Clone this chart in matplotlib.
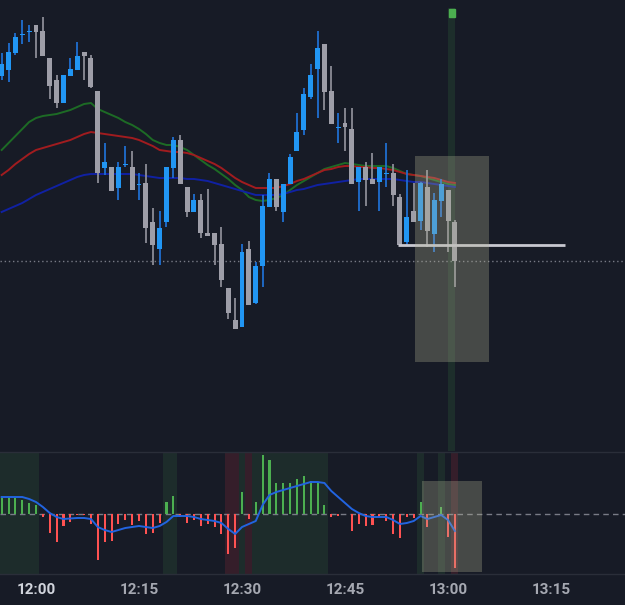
import matplotlib
matplotlib.use("Agg")
import matplotlib.pyplot as plt
from matplotlib.patches import Rectangle

# 1-minute candles, minutes counted from 12:00
minutes = list(range(-5, 62))

opens = [424, 430, 447, 465.5, 468.5, 475, 469, 442, 420, 397,
         424, 430, 448, 442, 409, 332, 333, 312, 335.5, 333,
         315.5, 317, 278, 251, 278, 332, 360, 313, 288, 300,
         267, 267, 256, 212, 180, 173, 251, 197, 234, 293,
         321, 288, 316, 349, 370, 403, 431, 456, 409, 372.5,
         377, 371, 318, 333, 321, 318, 326.5, 327, 303, 258,
         289, 279, 313, 266, 299, 310, 278]
highs = [447, 457, 467, 480, 475, 475, 483, 442, 425, 425,
         442, 458, 448, 445, 409, 357, 333, 338, 354, 349,
         327, 336, 292, 289, 333, 363, 365, 313, 306, 306,
         311, 267, 273, 212, 202, 256, 259, 238, 305, 327,
         321, 316, 346, 387, 412, 436, 469, 456, 434, 387,
         392, 392, 333, 338, 347, 333, 357, 336, 306, 330,
         317, 318, 330, 307, 321, 310, 280]
lows = [420, 418, 445, 456, 458, 442, 444, 401, 392, 397,
        424, 430, 420, 412, 317, 325, 309, 300, 333, 310,
        300, 257, 235, 235, 273, 322, 316, 283, 288, 262,
        264, 235, 213, 181, 171, 173, 195, 196, 213, 293,
        289, 278, 316, 349, 365, 401, 382, 390, 376, 357,
        349, 316, 289, 294, 316, 289, 313, 294, 255, 255,
        278, 270, 253, 248, 283, 248, 213]
closes = [436, 448, 463, 466, 469, 468, 444, 414, 397, 425,
          431, 444, 444, 413, 327, 338, 309, 333, 336, 310,
          316, 272, 255, 272, 333, 360, 316, 288, 300, 267,
          264, 255, 220, 187, 171, 248, 195, 234, 294, 321,
          293, 316, 343, 368, 406, 425, 452, 408, 376, 373,
          373, 316, 333, 320, 316, 333, 327, 305, 255, 283,
          278, 317, 269, 300, 316, 279, 239]

# moving averages
ma_green = [350, 357, 364, 371, 378, 382, 384, 385, 386, 388,
            390, 393, 396, 397, 391, 388, 385, 382, 378, 375,
            371, 366, 360, 357, 355, 355, 353, 350, 345, 340,
            335, 331, 326, 321, 315, 310, 303, 300, 299, 300,
            302, 305, 310, 315, 319, 323, 327, 331, 333, 335,
            337, 336, 335, 334, 334, 334, 334, 332, 329, 326,
            325, 324, 322, 320, 318, 316, 315]
ma_red = [325, 330, 336, 341, 346, 350, 352, 354, 356, 358,
          360, 363, 366, 368, 367, 366, 365, 364, 363, 362,
          360, 357, 354, 350, 349, 348, 348, 347, 345, 342,
          339, 336, 332, 327, 322, 318, 315, 312, 312, 312,
          312, 314, 316, 319, 321, 324, 327, 330, 331, 333,
          334, 334, 333, 333, 332, 332, 331, 330, 328, 326,
          325, 324, 323, 322, 320, 318, 317]
ma_blue = [288, 291, 294, 297, 301, 305, 308, 311, 314, 317,
           320, 323, 325, 326, 326, 326, 326, 326, 326, 326,
           325, 324, 323, 322, 322, 322, 322, 321, 321, 320,
           319, 317, 315, 313, 311, 309, 307, 305, 305, 305,
           305, 306, 308, 310, 311, 313, 315, 316, 317, 318,
           319, 320, 321, 321, 321, 321, 321, 321, 320, 319,
           318, 318, 317, 316, 315, 314, 313]

# oscillator pane
hist = [15.5, 15.5, 15.5, 13.5, 10.5, 8.5, -3.5, -19.5, -28.5, -12.5,
        -8.5, -1, -1, -10.5, -46.5, -28.5, -27.5, -10.5, -6.5, -11.5,
        -7.5, -20.5, -19.5, -9.5, 11.5, 17.5, -3.5, -9.5, -6.5, -12.5,
        -10, -13.5, -20.5, -40.5, -34.5, 21.5, -5.5, 11.5, 58.5, 53.5,
        30.5, 30.5, 30.5, 34.5, 37.5, 32.5, 30.5, 8.5, -3.5, -2.5,
        -0.5, -17.5, -10.5, -12.5, -11.5, -3.5, -7.5, -20.5, -24.5, -3.5,
        -4.5, 11.5, -13.5, 0, 6.5, -23.5, -54.5]
signal = [16.5, 16.5, 16.5, 16.5, 14.5, 11.5, 6.5, 0.5, -3.5, -5.5,
          -5, -4.5, -4.5, -5.5, -13.5, -16.5, -18.5, -16.5, -14.5, -13.5,
          -12.5, -13.5, -14.5, -12.5, -8.5, -2.5, -2.5, -2.5, -3.5, -5.5,
          -6.5, -7.5, -9.5, -15.5, -20.5, -13.5, -10.5, -7.5, 8.5, 18.5,
          21.5, 23.5, 25.5, 27.5, 29.5, 31.5, 31.5, 30.5, 22.5, 16.5,
          10.5, 4.5, 0.5, -2.5, -3.5, -3.5, -3.5, -6.5, -10.5, -9.5,
          -7.5, -2.5, -5.5, -3.5, -1.5, -6.5, -17.5]

# highlighted minute ranges in the oscillator pane (start, end, kind)
osc_bands = [(-5, 0, 'up'), (19, 20, 'up'), (28, 29, 'down'), (30, 30, 'up'),
             (31, 31, 'down'), (32, 42, 'up'), (56, 56, 'up'), (59, 59, 'up'),
             (61, 61, 'down')]

level_dotted = 239
level_line = 255
tick_pos = [0, 15, 30, 45, 60, 75]
tick_labels = ['12:00', '12:15', '12:30', '12:45', '13:00', '13:15']

bg = '#171b26'
up_col = '#2196f3'
up_wick = '#1f6fd0'
dn_col = '#9e9ea8'
dn_wick = '#8c8c96'

fig = plt.figure(figsize=(6.25, 6.05), dpi=100, facecolor=bg)
ax = fig.add_axes([0, 154 / 605, 1, 451 / 605], facecolor=bg)
ax2 = fig.add_axes([0, 31 / 605, 1, 122 / 605], facecolor=bg)

xmin, xmax = -5.243, 85.77

# ---- main pane ----
ax.set_xlim(xmin, xmax)
ax.set_ylim(49, 500)
ax.axis('off')

ax.axhline(level_dotted, color='#787b86', lw=1, ls=(0, (1, 2)), zorder=1)

ax.plot(minutes, ma_green, color='#1d6b25', lw=1.4, zorder=2)
ax.plot(minutes, ma_red, color='#a11c1f', lw=1.4, zorder=2)
ax.plot(minutes, ma_blue, color='#1021a3', lw=1.4, zorder=2)

for m, o, h, l, c in zip(minutes, opens, highs, lows, closes):
    up = c >= o
    ax.vlines(m, l, h, color=up_wick if up else dn_wick, lw=1.3, zorder=3)
    body = max(abs(c - o), 1.5)
    ax.bar(m, body, bottom=min(o, c) - (body - abs(c - o)) / 2, width=0.72,
           color=up_col if up else dn_col, zorder=4)

ax.hlines(level_line, 52.7, 77.0, color='#c8c8d0', lw=2, zorder=5)

# signal column and marker
ax.axvspan(60, 61, ymin=0, ymax=(492 - 49) / 451, color='#4caf50', alpha=0.13,
           lw=0, zorder=1)
ax.add_patch(Rectangle((60.1, 483), 0.85, 8, color='#4caf50', zorder=6))

ax.add_patch(Rectangle((55.2, 138), 10.76, 206, color='#b4b496', alpha=0.3,
                       lw=0, zorder=6))

# ---- oscillator pane ----
ax2.set_xlim(xmin, xmax)
ax2.set_ylim(-60.5, 61.5)
for s, e, kind in osc_bands:
    ax2.axvspan(s - 0.5, e + 0.5, color='#4caf50' if kind == 'up' else '#f23645',
                alpha=0.12 if kind == 'up' else 0.14, lw=0, zorder=0)

ax2.axhline(0, color='#787b86', lw=1, ls=(0, (4, 3)), zorder=1)
ax2.bar(minutes, hist, width=0.3,
        color=['#4caf50' if v >= 0 else '#ff5252' for v in hist], zorder=2)
ax2.plot(minutes, signal, color='#2264e0', lw=1.4, zorder=3)

ax2.add_patch(Rectangle((56.2, -58.5), 8.75, 91, color='#b4b496', alpha=0.3,
                        lw=0, zorder=4))

for side in ['left', 'right']:
    ax2.spines[side].set_visible(False)
for side in ['top', 'bottom']:
    ax2.spines[side].set_color('#2a2e39')
    ax2.spines[side].set_linewidth(1)
ax2.set_yticks([])
ax2.set_xticks(tick_pos)
ax2.set_xticklabels(tick_labels, family='Roboto', fontweight='bold')
ax2.tick_params(axis='x', length=0, pad=6.5, labelsize=11, colors='#a5a8b1')
lbls = ax2.get_xticklabels()
lbls[0].set_color('#d1d4dc')

fig.savefig('out.png', dpi=100, facecolor=bg)
